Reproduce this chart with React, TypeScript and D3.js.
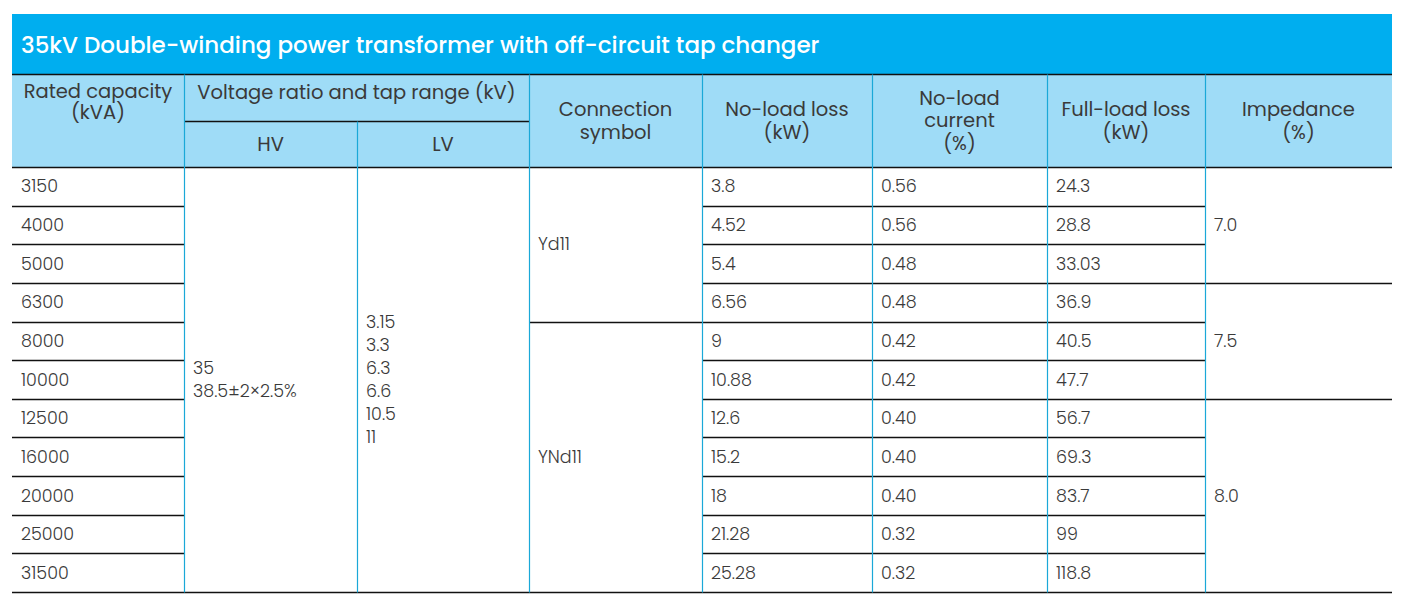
import React, { useEffect, useRef } from 'react';
import * as d3 from 'd3';

const title = '35kV Double-winding power transformer with off-circuit tap changer';
const capacities = ['3150', '4000', '5000', '6300', '8000', '10000', '12500', '16000', '20000', '25000', '31500'];
const noLoadLoss = ['3.8', '4.52', '5.4', '6.56', '9', '10.88', '12.6', '15.2', '18', '21.28', '25.28'];
const noLoadCurrent = ['0.56', '0.56', '0.48', '0.48', '0.42', '0.42', '0.40', '0.40', '0.40', '0.32', '0.32'];
const fullLoadLoss = ['24.3', '28.8', '33.03', '36.9', '40.5', '47.7', '56.7', '69.3', '83.7', '99', '118.8'];
const hvLines = ['35', '38.5±2×2.5%'];
const lvLines = ['3.15', '3.3', '6.3', '6.6', '10.5', '11'];
// merged groups: [first row, last row, label]
const connectionGroups: [number, number, string][] = [[0, 3, 'Yd11'], [4, 10, 'YNd11']];
const impedanceGroups: [number, number, string][] = [[0, 2, '7.0'], [3, 5, '7.5'], [6, 10, '8.0']];
const headers = [
  ['Rated capacity', '(kVA)'],
  ['Voltage ratio and tap range (kV)'],
  ['Connection', 'symbol'],
  ['No-load loss', '(kW)'],
  ['No-load', 'current', '(%)'],
  ['Full-load loss', '(kW)'],
  ['Impedance', '(%)'],
];

const W = 1404;
const H = 613;
const colEdges = [12, 184, 357, 529, 702, 872, 1047, 1205, 1392];
const titleTop = 14, headTop = 74, subTop = 121, bodyTop = 167, bodyBottom = 592;
const FONT = 'Poppins, "Open Sans", sans-serif';
const TEXT = '#3a3a3a';
const VLINE = '#1aa8d8';

const App = () => {
  const ref = useRef<SVGSVGElement>(null);

  useEffect(() => {
    const svg = d3.select(ref.current);
    svg.selectAll('*').remove();

    const y = d3.scaleBand<string>().domain(capacities).range([bodyTop, bodyBottom]);
    const L = colEdges[0], R = colEdges[colEdges.length - 1];
    const rowTop = (i: number) => y(capacities[i]) as number;
    const rowBot = (i: number) => rowTop(i) + y.bandwidth();
    const px = (v: number) => Math.round(v) + 0.5;

    // title bar
    svg.append('rect').attr('x', L).attr('y', titleTop).attr('width', R - L).attr('height', headTop - titleTop).attr('fill', '#00aeef');
    svg.append('text').attr('x', L + 9).attr('y', (titleTop + headTop) / 2 + 1).attr('dy', '0.35em')
      .attr('fill', '#fff').attr('font-size', 23).attr('font-weight', 500).attr('font-family', FONT).text(title);

    // header
    svg.append('rect').attr('x', L).attr('y', headTop).attr('width', R - L).attr('height', bodyTop - headTop).attr('fill', '#9fdcf7');

    const multi = (x: number, cy: number, lines: string[], lh: number, size: number, anchor: string, weight: number) => {
      const t = svg.append('text').attr('font-family', FONT).attr('font-size', size).attr('font-weight', weight)
        .attr('fill', TEXT).attr('text-anchor', anchor);
      lines.forEach((s, k) => {
        t.append('tspan').attr('x', x).attr('y', cy + (k - (lines.length - 1) / 2) * lh).attr('dy', '0.35em').text(s);
      });
    };

    const cx = (a: number, b: number) => (colEdges[a] + colEdges[b]) / 2;
    multi(cx(0, 1), 102, headers[0], 21, 19.5, 'middle', 400);
    multi(cx(1, 3), 92, headers[1], 21, 19.5, 'middle', 400);
    multi(cx(1, 2), (subTop + bodyTop) / 2, ['HV'], 21, 19.5, 'middle', 400);
    multi(cx(2, 3), (subTop + bodyTop) / 2, ['LV'], 21, 19.5, 'middle', 400);
    headers.slice(2).forEach((h, k) => multi(cx(k + 3, k + 4), (headTop + bodyTop) / 2, h, 22.5, 19.5, 'middle', 400));

    // body text
    const body = (col: number, cy: number, lines: string[], lh = 23) =>
      multi(colEdges[col] + 9, cy, lines, lh, 17.5, 'start', 300);
    capacities.forEach((c, i) => body(0, (rowTop(i) + rowBot(i)) / 2, [c]));
    noLoadLoss.forEach((v, i) => body(4, (rowTop(i) + rowBot(i)) / 2, [v]));
    noLoadCurrent.forEach((v, i) => body(5, (rowTop(i) + rowBot(i)) / 2, [v]));
    fullLoadLoss.forEach((v, i) => body(6, (rowTop(i) + rowBot(i)) / 2, [v]));
    body(1, (bodyTop + bodyBottom) / 2, hvLines);
    body(2, (bodyTop + bodyBottom) / 2, lvLines);
    connectionGroups.forEach(([a, b, s]) => body(3, (rowTop(a) + rowBot(b)) / 2, [s]));
    impedanceGroups.forEach(([a, b, s]) => body(7, (rowTop(a) + rowBot(b)) / 2, [s]));

    // horizontal lines
    const hline = (x1: number, x2: number, yy: number) =>
      svg.append('line').attr('x1', x1).attr('x2', x2).attr('y1', px(yy)).attr('y2', px(yy)).attr('stroke', '#111').attr('stroke-width', 1.3);
    hline(L, R, headTop);
    hline(colEdges[1], colEdges[3], subTop);
    hline(L, R, bodyTop);
    hline(L, R, bodyBottom);
    capacities.slice(1).forEach((_, k) => {
      const yy = rowTop(k + 1);
      hline(colEdges[0], colEdges[1], yy);
      hline(colEdges[4], colEdges[7], yy);
    });
    connectionGroups.slice(1).forEach(([a]) => hline(colEdges[3], colEdges[4], rowTop(a)));
    impedanceGroups.slice(1).forEach(([a]) => hline(colEdges[7], colEdges[8], rowTop(a)));

    // vertical lines
    colEdges.slice(1, -1).forEach((x, k) => {
      const top = k + 1 === 2 ? subTop : headTop;
      svg.append('line').attr('x1', px(x)).attr('x2', px(x)).attr('y1', px(top)).attr('y2', px(bodyBottom))
        .attr('stroke', VLINE).attr('stroke-width', 1.2);
    });
  }, []);

  return <svg ref={ref} width={W} height={H} style={{ position: 'absolute', left: 0, top: 0 }} />;
};

export default App;
